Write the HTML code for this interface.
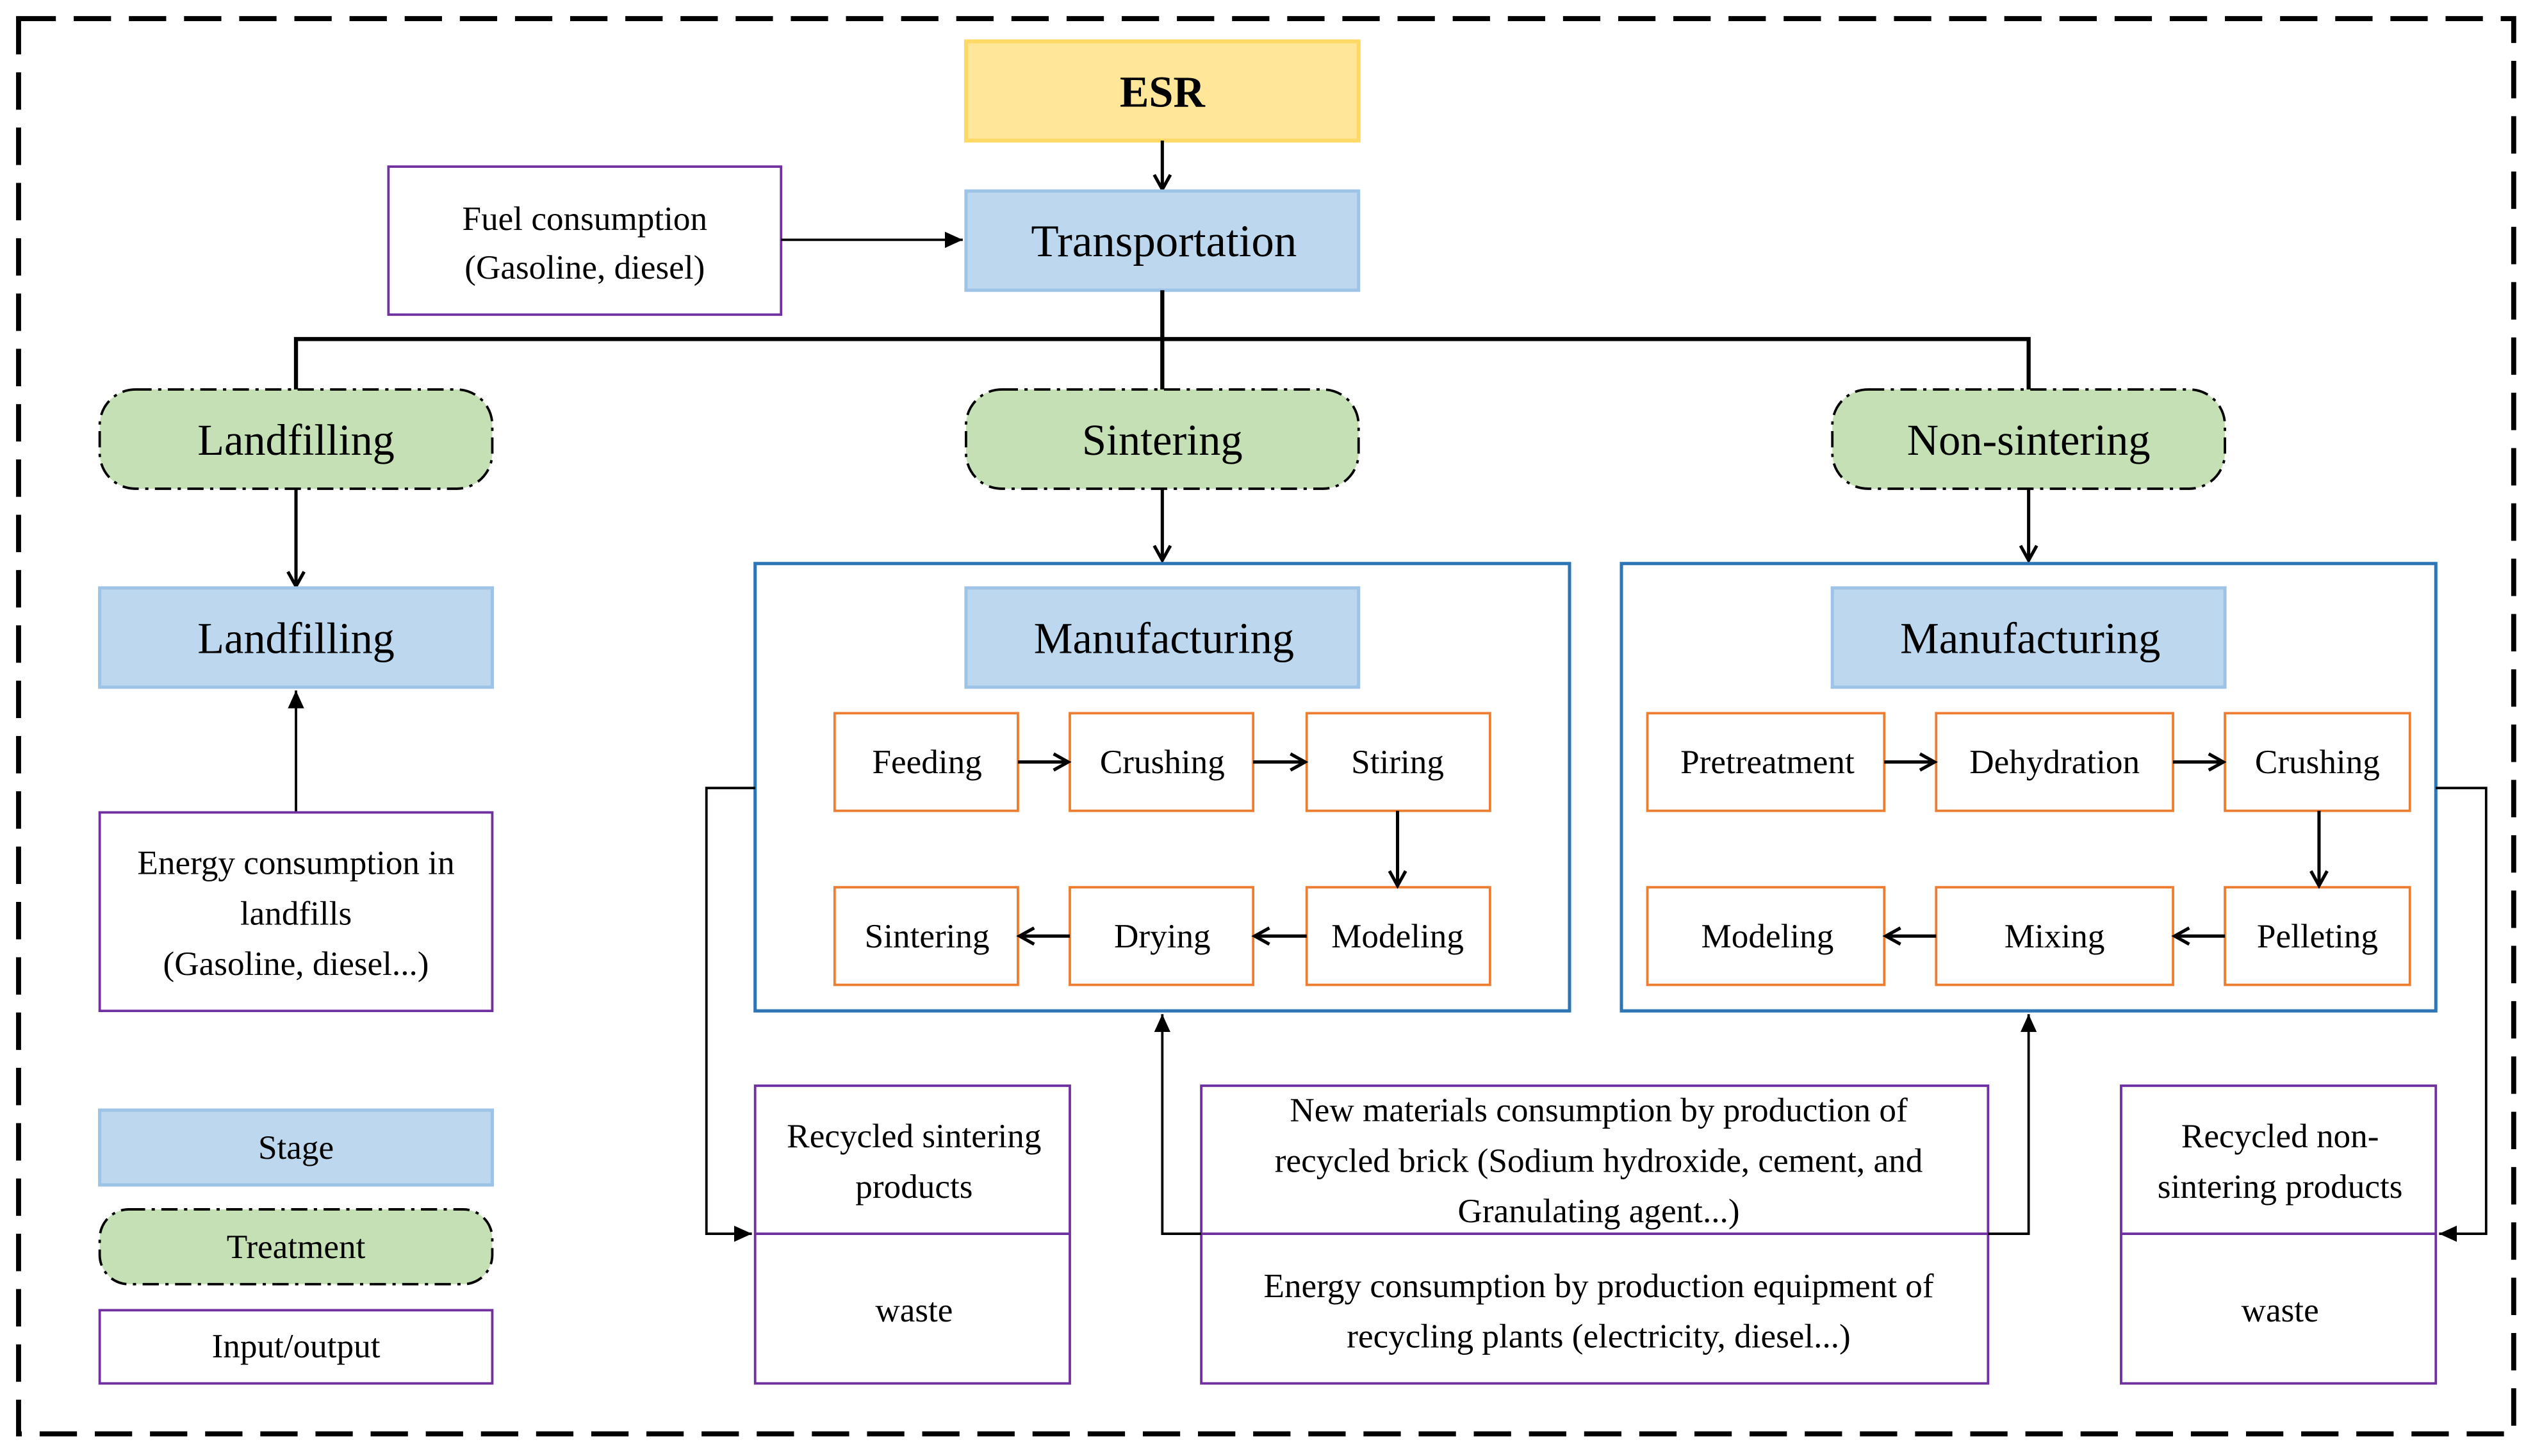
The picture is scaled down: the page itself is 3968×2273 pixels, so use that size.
<!DOCTYPE html>
<html><head><meta charset="utf-8"><style>
html,body{margin:0;padding:0;background:#fff;width:3968px;height:2273px;overflow:hidden}
svg{display:block}
text{font-family:"Liberation Serif",serif;fill:#000;text-anchor:middle;dominant-baseline:central}
</style></head><body>
<svg width="3968" height="2273" viewBox="0 0 1560 893.6" xmlns="http://www.w3.org/2000/svg">
<defs><marker id="a" markerWidth="12" markerHeight="12" refX="10" refY="6" orient="auto" markerUnits="userSpaceOnUse"><path d="M1,1 L10,6 L1,11" fill="none" stroke="#000" stroke-width="2"/></marker>
<marker id="b" markerWidth="12" markerHeight="12" refX="11" refY="6" orient="auto" markerUnits="userSpaceOnUse"><path d="M0,1 L11,6 L0,11 Z" fill="#000"/></marker></defs>
<g transform="translate(11.4,11.4) scale(0.9956,0.9984) translate(-12,-14)">
<rect x="12" y="14" width="1538" height="870" fill="none" stroke="#000" stroke-width="3.1" stroke-dasharray="23,11"/>
<rect x="596" y="28" width="242" height="61" fill="#FFE699" stroke="#FFD966" stroke-width="2.4"/>
<text x="717" y="59" font-size="27" font-weight="bold">ESR</text>
<line x1="717" y1="89" x2="717" y2="119" stroke="#000" stroke-width="2" marker-end="url(#a)"/>
<rect x="596" y="120" width="242" height="61" fill="#BDD7EE" stroke="#9DC3E6" stroke-width="2"/>
<text x="718" y="151" font-size="28">Transportation</text>
<rect x="240" y="105" width="242" height="91" fill="#fff" stroke="#7030A0" stroke-width="1.5"/>
<text x="361" y="137" font-size="21">Fuel consumption</text>
<text x="361" y="167" font-size="21">(Gasoline, diesel)</text>
<line x1="482" y1="150" x2="594" y2="150" stroke="#000" stroke-width="1.5" marker-end="url(#b)"/>
<path d="M717 181 V242 M183 242 V211 H1251 V242" fill="none" stroke="#000" stroke-width="2.5"/>
<g fill="#C5E0B4" stroke="#000" stroke-width="1.5" stroke-dasharray="10,4,2,4">
<rect x="62" y="242" width="242" height="61" rx="22"/>
<rect x="596" y="242" width="242" height="61" rx="22"/>
<rect x="1130" y="242" width="242" height="61" rx="22"/>
</g>
<text x="183" y="273" font-size="27">Landfilling</text>
<text x="717" y="273" font-size="27">Sintering</text>
<text x="1251" y="273" font-size="27">Non-sintering</text>
<g stroke="#000" stroke-width="2" marker-end="url(#a)">
<line x1="183" y1="303" x2="183" y2="363"/>
<line x1="717" y1="303" x2="717" y2="347"/>
<line x1="1251" y1="303" x2="1251" y2="347"/>
</g>
<rect x="62" y="364" width="242" height="61" fill="#BDD7EE" stroke="#9DC3E6" stroke-width="2"/>
<text x="183" y="395" font-size="27">Landfilling</text>
<line x1="183" y1="502" x2="183" y2="427" stroke="#000" stroke-width="1.5" marker-end="url(#b)"/>
<rect x="62" y="502" width="242" height="122" fill="#fff" stroke="#7030A0" stroke-width="1.5"/>
<text x="183" y="533" font-size="21">Energy consumption in</text>
<text x="183" y="564" font-size="21">landfills</text>
<text x="183" y="595" font-size="21">(Gasoline, diesel...)</text>
<rect x="62" y="685" width="242" height="46" fill="#BDD7EE" stroke="#9DC3E6" stroke-width="2"/>
<text x="183" y="708" font-size="21">Stage</text>
<rect x="62" y="746" width="242" height="46" rx="18" fill="#C5E0B4" stroke="#000" stroke-width="1.5" stroke-dasharray="10,4,2,4"/>
<text x="183" y="769" font-size="21">Treatment</text>
<rect x="62" y="808" width="242" height="45" fill="#fff" stroke="#7030A0" stroke-width="1.5"/>
<text x="183" y="830" font-size="21">Input/output</text>
<rect x="466" y="349" width="502" height="275" fill="none" stroke="#2E75B6" stroke-width="2"/>
<rect x="1000" y="349" width="502" height="275" fill="none" stroke="#2E75B6" stroke-width="2"/>
<rect x="596" y="364" width="242" height="61" fill="#BDD7EE" stroke="#9DC3E6" stroke-width="2"/>
<text x="718" y="395" font-size="27">Manufacturing</text>
<rect x="1130" y="364" width="242" height="61" fill="#BDD7EE" stroke="#9DC3E6" stroke-width="2"/>
<text x="1252" y="395" font-size="27">Manufacturing</text>
<g fill="#fff" stroke="#ED7D31" stroke-width="1.5">
<rect x="515" y="441" width="113" height="60"/><rect x="660" y="441" width="113" height="60"/><rect x="806" y="441" width="113" height="60"/>
<rect x="515" y="548" width="113" height="60"/><rect x="660" y="548" width="113" height="60"/><rect x="806" y="548" width="113" height="60"/>
<rect x="1016" y="441" width="146" height="60"/><rect x="1194" y="441" width="146" height="60"/><rect x="1372" y="441" width="114" height="60"/>
<rect x="1016" y="548" width="146" height="60"/><rect x="1194" y="548" width="146" height="60"/><rect x="1372" y="548" width="114" height="60"/>
</g>
<g font-size="21">
<text x="572" y="471">Feeding</text><text x="717" y="471">Crushing</text><text x="862" y="471">Stiring</text>
<text x="572" y="578">Sintering</text><text x="717" y="578">Drying</text><text x="862" y="578">Modeling</text>
<text x="1090" y="471">Pretreatment</text><text x="1267" y="471">Dehydration</text><text x="1429" y="471">Crushing</text>
<text x="1090" y="578">Modeling</text><text x="1267" y="578">Mixing</text><text x="1429" y="578">Pelleting</text>
</g>
<g stroke="#000" stroke-width="2" marker-end="url(#a)">
<line x1="628" y1="471" x2="659" y2="471"/><line x1="773" y1="471" x2="805" y2="471"/>
<line x1="862" y1="501" x2="862" y2="547"/>
<line x1="806" y1="578" x2="774" y2="578"/><line x1="660" y1="578" x2="629" y2="578"/>
<line x1="1162" y1="471" x2="1193" y2="471"/><line x1="1340" y1="471" x2="1371" y2="471"/>
<line x1="1430" y1="501" x2="1430" y2="547"/>
<line x1="1372" y1="578" x2="1341" y2="578"/><line x1="1194" y1="578" x2="1163" y2="578"/>
</g>
<g fill="#fff" stroke="#7030A0" stroke-width="1.5">
<rect x="466" y="670" width="194" height="183"/><line x1="466" y1="761" x2="660" y2="761"/>
<rect x="741" y="670" width="485" height="183"/><line x1="741" y1="761" x2="1226" y2="761"/>
<rect x="1308" y="670" width="194" height="183"/><line x1="1308" y1="761" x2="1502" y2="761"/>
</g>
<g font-size="21">
<text x="564" y="701">Recycled sintering</text><text x="564" y="732">products</text><text x="564" y="808">waste</text>
<text x="1406" y="701">Recycled non-</text><text x="1406" y="732">sintering products</text><text x="1406" y="808">waste</text>
<text x="986" y="685">New materials consumption by production of</text>
<text x="986" y="716">recycled brick (Sodium hydroxide, cement, and</text>
<text x="986" y="747">Granulating agent...)</text>
<text x="986" y="793">Energy consumption by production equipment of</text>
<text x="986" y="824">recycling plants (electricity, diesel...)</text>
</g>
<g fill="none" stroke="#000" stroke-width="1.5" marker-end="url(#b)">
<path d="M466 487 H436 V761 H464"/>
<path d="M1502 487 H1533 V761 H1504"/>
<path d="M741 761 H717 V626"/>
<path d="M1226 761 H1251 V626"/>
</g>
</g>
</svg>
</body></html>
